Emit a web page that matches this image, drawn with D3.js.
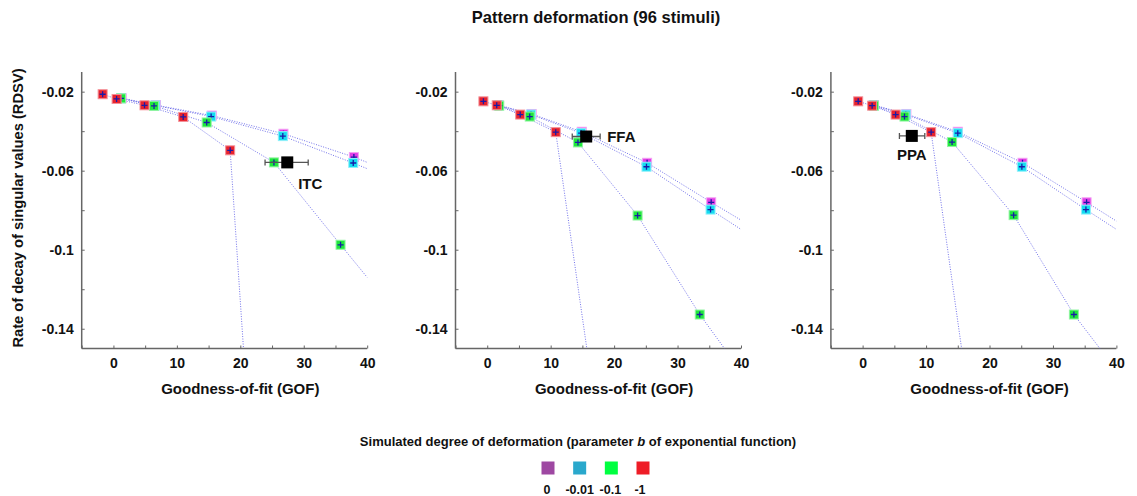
<!DOCTYPE html>
<html><head><meta charset="utf-8">
<script src="https://cdn.jsdelivr.net/npm/d3@7"></script>
<style>body{margin:0;background:#fff}svg{display:block}text{font-family:"Liberation Sans",Arial,sans-serif;font-weight:bold;fill:#111}</style>
</head><body><svg id="c" width="1137" height="496"></svg>
<script>
// ---------- data ----------
const title = "Pattern deformation (96 stimuli)";
const regions = ["ITC", "FFA", "PPA"];
const deformLabels = ["0", "-0.01", "-0.1", "-1"];
const xTicks = [0, 10, 20, 30, 40];
const xMinorTicks = [-5, 0, 5, 10, 15, 20, 25, 30, 35, 40];
const yTicks = [-0.02, -0.06, -0.1, -0.14];
const yMinorTicks = [-0.02, -0.04, -0.06, -0.08, -0.1, -0.12, -0.14];

// per panel: series [b=0, b=-0.01, b=-0.1, b=-1]; each = points [GOF, RDSV]
const itcSeries = [
  [[1.3,-0.0233],[6.7,-0.0268],[15.5,-0.0321],[26.8,-0.0413],[37.9,-0.0531]],
  [[1.2,-0.0234],[6.6,-0.0270],[15.4,-0.0326],[26.7,-0.0425],[37.8,-0.0561]],
  [[1.2,-0.0234],[6.4,-0.0272],[14.7,-0.0356],[25.3,-0.0558],[35.8,-0.0975]],
  [[-1.7,-0.0213],[0.5,-0.0237],[4.9,-0.0269],[11.0,-0.0328],[18.4,-0.0497]]
];
const itcLineEnds = [[40,-0.0558],[40,-0.0590],[40,-0.1140],[20.5,-0.15]];
const ffaSeries = [
  [[1.8,-0.0268],[7.0,-0.0313],[14.9,-0.0403],[25.2,-0.0560],[35.3,-0.0760]],
  [[1.7,-0.0269],[6.9,-0.0316],[14.8,-0.0410],[25.1,-0.0580],[35.2,-0.0797]],
  [[1.9,-0.0271],[6.7,-0.0326],[14.3,-0.0457],[23.7,-0.0827],[33.5,-0.1328]],
  [[-0.6,-0.0249],[1.5,-0.0269],[5.2,-0.0316],[10.8,-0.0405]]
];
const ffaLineEnds = [[40,-0.0850],[40,-0.0897],[37.4,-0.15],[15.7,-0.15]];
const ppaSeries = [
  [[1.8,-0.0268],[6.9,-0.0313],[15.0,-0.0403],[25.2,-0.0560],[35.3,-0.0760]],
  [[1.7,-0.0269],[6.8,-0.0316],[15.0,-0.0410],[25.1,-0.0580],[35.2,-0.0797]],
  [[1.8,-0.0271],[6.6,-0.0326],[14.1,-0.0455],[23.8,-0.0825],[33.3,-0.1328]],
  [[-0.7,-0.0249],[1.5,-0.0271],[5.2,-0.0316],[10.8,-0.0405]]
];
const ppaLineEnds = [[40,-0.0855],[40,-0.0897],[37.4,-0.15],[15.6,-0.15]];
// measured region: [GOF, RDSV, GOF low, GOF high]
const itcMeasured = [27.4, -0.0558, 23.9, 30.7];
const ffaMeasured = [15.6, -0.0427, 13.4, 17.8];
const ppaMeasured = [7.75, -0.0424, 5.8, 9.8];

const panelSeries = [itcSeries, ffaSeries, ppaSeries];
const panelLineEnds = [itcLineEnds, ffaLineEnds, ppaLineEnds];
const panelMeasured = [itcMeasured, ffaMeasured, ppaMeasured];

// ---------- styles ----------
const markColors = ["#e23ce6", "#14dcf0", "#1ee83a", "#e8222c"];
const markStroke = ["#f4a0f4", "#90f0fa", "#90f4a0", "#f49098"];
const legendColors = ["#9e48a2", "#2aa8cc", "#00ff40", "#ee1c26"];
const labelOffsets = [[23, 27, "middle"], [21, 5, "start"], [0, 24, "middle"]];

const svg = d3.select("#c");
const panelLeft = [81.7, 455.5, 830.9];
const panelW = 285.5;
const yScale = d3.scaleLinear().domain([-0.15, -0.01]).range([348.5, 71.9]);

svg.append("text").attr("x", 596).attr("y", 23).attr("text-anchor", "middle")
  .style("font-size", "16.5px").text(title);

svg.append("text").attr("transform", "translate(23,208) rotate(-90)")
  .attr("text-anchor", "middle").style("font-size", "14.7px")
  .text("Rate of decay of singular values (RDSV)");

const line = d3.line();
panelSeries.forEach((series, p) => {
  const x = d3.scaleLinear().domain([-5, 40]).range([panelLeft[p], panelLeft[p] + panelW]);
  const g = svg.append("g");
  const axisColor = "#666";
  const xa = g.append("g").attr("transform", `translate(0,${yScale(-0.15)})`)
    .call(d3.axisBottom(x).tickValues(xMinorTicks).tickSize(-3).tickFormat(""));
  const xl = g.append("g").attr("transform", `translate(0,${yScale(-0.15)})`)
    .call(d3.axisBottom(x).tickValues(xTicks).tickSize(0).tickPadding(10).tickFormat(d3.format("d")));
  const ya = g.append("g").attr("transform", `translate(${x(-5)},0)`)
    .call(d3.axisLeft(yScale).tickValues(yMinorTicks).tickSize(-3).tickFormat(""));
  const yl = g.append("g").attr("transform", `translate(${x(-5)},0)`)
    .call(d3.axisLeft(yScale).tickValues(yTicks).tickSize(0).tickPadding(8).tickFormat(d => String(+d.toFixed(2))));
  [xa, xl, ya, yl].forEach(a => {
    a.select(".domain").attr("stroke", axisColor).attr("stroke-width", 1.5);
    a.selectAll(".tick line").attr("stroke", axisColor);
    a.selectAll("text").style("font-size", "14px").style("font-family", '"Liberation Sans",Arial,sans-serif').style("font-weight", "bold").attr("fill", "#111");
  });
  xl.select(".domain").remove(); yl.select(".domain").remove();
  xa.select(".domain").attr("d", `M${x(-5)},0H${x(40)}`);
  ya.select(".domain").attr("d", `M0,${yScale(-0.15)}V${yScale(-0.01)}`);

  g.append("text").attr("x", x(20)).attr("y", 394).attr("text-anchor", "middle")
    .style("font-size", "15px").text("Goodness-of-fit (GOF)");

  series.forEach((pts, s) => {
    const all = pts.concat([panelLineEnds[p][s]]);
    g.append("path").attr("d", line(all.map(d => [x(d[0]), yScale(d[1])])))
      .attr("fill", "none").attr("stroke", "#5a5ae6").attr("stroke-width", 1)
      .attr("stroke-dasharray", "1,1.5").attr("opacity", 0.85);
  });
  series.forEach((pts, s) => {
    const mg = g.append("g");
    mg.selectAll("rect").data(pts).join("rect")
      .attr("x", d => x(d[0]) - 4.5).attr("y", d => yScale(d[1]) - 4.5)
      .attr("width", 9).attr("height", 9)
      .attr("fill", markColors[s]).attr("stroke", markStroke[s]).attr("stroke-width", 1);
    mg.selectAll("path").data(pts).join("path")
      .attr("d", d => `M${x(d[0]) - 3},${yScale(d[1])}h6M${x(d[0])},${yScale(d[1]) - 3}v6`)
      .attr("stroke", "#1a1aa8").attr("stroke-width", 1.3);
  });
  const m = panelMeasured[p];
  const mx = x(m[0]), my = yScale(m[1]);
  g.append("path").attr("d", `M${x(m[2])},${my}H${x(m[3])}M${x(m[2])},${my - 3}v6M${x(m[3])},${my - 3}v6`)
    .attr("stroke", "#555").attr("stroke-width", 1.3).attr("fill", "none");
  g.append("rect").attr("x", mx - 6).attr("y", my - 6).attr("width", 12).attr("height", 12).attr("fill", "#000");
  const o = labelOffsets[p];
  g.append("text").attr("x", mx + o[0]).attr("y", my + o[1]).attr("text-anchor", o[2])
    .style("font-size", "15px").text(regions[p]);
});

const legTitle = svg.append("text").attr("x", 578).attr("y", 446).attr("text-anchor", "middle")
  .style("font-size", "13px");
legTitle.append("tspan").text("Simulated degree of deformation (parameter ");
legTitle.append("tspan").style("font-style", "italic").text("b");
legTitle.append("tspan").text(" of exponential function)");

const legX = d3.scalePoint().domain(deformLabels).range([548, 643]);
svg.selectAll(".leg").data(deformLabels).join("rect").attr("class", "leg")
  .attr("x", d => legX(d) - 6.5).attr("y", 461.5).attr("width", 13).attr("height", 13)
  .attr("fill", (d, i) => legendColors[i]);
svg.selectAll(".legt").data(deformLabels).join("text").attr("class", "legt")
  .attr("x", (d, i) => legX(d) + [-1, 0, -1, -3][i]).attr("y", 494).attr("text-anchor", "middle")
  .style("font-size", "12.5px").text(d => d);
</script></body></html>
